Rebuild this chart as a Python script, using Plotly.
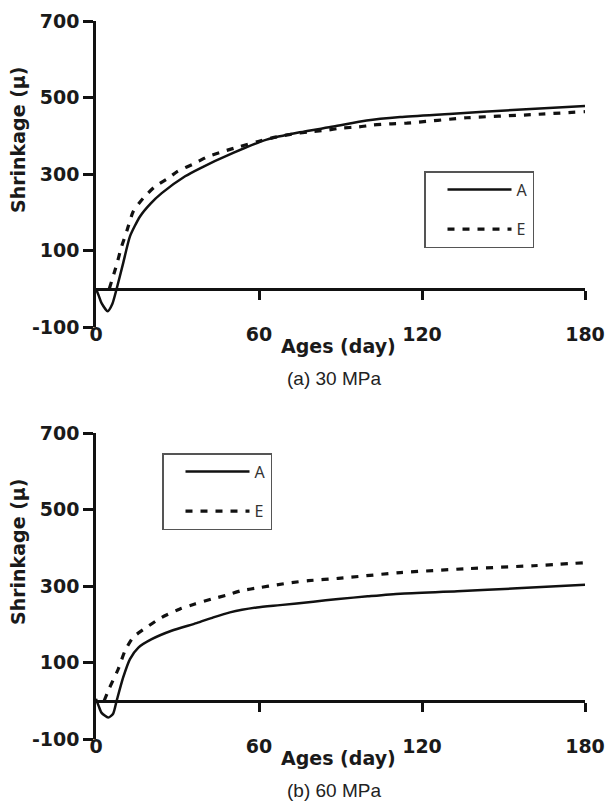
import plotly.graph_objects as go

# ---------------- data ----------------
days_a30 = [0, 1, 2, 4.3, 6, 7.6, 10, 12.5, 16.2, 20, 24.2, 32.8, 38.3, 50.5, 62.8, 75, 87.4, 99.6, 112, 130, 155, 180]
shr_a30 = [0, -18, -37, -59, -40, 0, 67, 137, 189, 222, 250, 294, 315, 355, 390, 409, 424, 440, 449, 457, 468, 478]

days_e30 = [4.9, 7.6, 9.4, 11.3, 13.7, 17.4, 21.7, 26.6, 30, 36.4, 41.3, 46.9, 53, 59.7, 66.5, 72, 78.2, 84.3,
            90.4, 96.6, 102, 108, 114.4, 136.5, 160, 180]
shr_e30 = [0, 63, 110, 150, 202, 237, 267, 289, 307, 328, 346, 359, 372, 385, 397, 404, 410, 414,
           420, 423, 428, 431, 433, 447, 455, 463]

days_a60 = [0, 1, 2, 4.5, 6.3, 7.6, 10, 12.5, 15.6, 20.5, 27.8, 37, 43.2, 49.3, 59.2, 67.7, 80, 89.2, 100, 112, 133, 155, 180]
shr_a60 = [5, -14, -31, -44, -34, 0, 61, 109, 139, 161, 183, 203, 218, 231, 244, 250, 259, 266, 273, 280, 286, 294, 303]

days_e60 = [3, 4.8, 8.2, 10.7, 13.7, 18.6, 24.2, 30.9, 36.4, 42.6, 48.1, 53.6, 60.4, 66.5, 72, 78.2, 89.2,
            112, 136, 161, 180]
shr_e60 = [0, 31, 83, 131, 166, 192, 218, 240, 253, 266, 276, 288, 296, 303, 309, 314, 320,
           335, 345, 353, 361]

x_ticks = [0, 60, 120, 180]
x_minor_ticks = [60, 120, 180]
y_ticks = [-100, 100, 300, 500, 700]
y_tick_labels = [str(v) for v in y_ticks]
x_range = [0, 180]
y_range = [-100, 700]
series_names = ["A", "E"]
captions = ["(a) 30 MPa", "(b) 60 MPa"]
x_title = "Ages (day)"
y_title = "Shrinkage (μ)"

# ---------------- layout helpers ----------------
W, H = 607, 801

def px_x(p):
    return p / W

def px_y(p):
    return 1 - p / H

xdom = [px_x(96), px_x(585)]
ydom_top = [px_y(327), px_y(21)]
ydom_bot = [px_y(739), px_y(433)]

def zero_pos(dom):
    return dom[0] + (0 - y_range[0]) / (y_range[1] - y_range[0]) * (dom[1] - dom[0])

BOLD = dict(family="DejaVu Sans", size=19, color="#1a1a1a", weight="bold")
INK = "#111111"

fig = go.Figure()

def add_pair(xa, ya, xz, leg, da, sa, de, se):
    fig.add_trace(go.Scatter(x=da, y=sa, mode="lines", name=series_names[0],
                             line=dict(color=INK, width=2.5, shape="spline", smoothing=0.6),
                             xaxis=xa, yaxis=ya, legend=leg, legendgroup=leg + "A"))
    fig.add_trace(go.Scatter(x=de, y=se, mode="lines", name=series_names[1],
                             line=dict(color=INK, width=3.2, dash="7px,8px", shape="spline", smoothing=0.6),
                             xaxis=xa, yaxis=ya, legend=leg, legendgroup=leg + "E"))
    # empty trace so the axis drawn through y = 0 gets its own subplot
    fig.add_trace(go.Scatter(x=[], y=[], mode="lines", xaxis=xz, yaxis=ya, showlegend=False,
                             hoverinfo="skip"))

add_pair("x", "y", "x3", "legend", days_a30, shr_a30, days_e30, shr_e30)
add_pair("x2", "y2", "x4", "legend2", days_a60, shr_a60, days_e60, shr_e60)

def main_x(anchor):
    return dict(domain=xdom, anchor=anchor, range=x_range, tickvals=x_ticks, ticks="",
                showline=False, showgrid=False, zeroline=False, tickfont=BOLD,
                ticklabelstandoff=-6, automargin=False)

def zero_x(over, pos):
    return dict(domain=xdom, overlaying=over, anchor="free", position=pos, range=x_range,
                tickvals=x_minor_ticks, ticks="outside", ticklen=9, tickwidth=2.5, tickcolor=INK,
                showline=True, linewidth=2.5, linecolor=INK, showticklabels=False,
                showgrid=False, zeroline=False, automargin=False)

def main_y(anchor, dom):
    return dict(domain=dom, anchor=anchor, range=y_range, tickvals=y_ticks, ticktext=y_tick_labels,
                ticks="outside", ticklen=10, tickwidth=2.5, tickcolor=INK, showline=True,
                linewidth=2.5, linecolor=INK, showgrid=False, zeroline=False, tickfont=BOLD,
                automargin=False)

def legend_box(x, y):
    return dict(x=x, y=y, xanchor="left", yanchor="top", bordercolor="#555555", borderwidth=1.5,
                bgcolor="white", font=dict(family="Noto Sans", size=16, color="#333333"),
                traceorder="grouped", tracegroupgap=16, itemwidth=64, indentation=17)

fig.update_layout(
    width=W, height=H, margin=dict(l=0, r=0, t=0, b=0),
    paper_bgcolor="white", plot_bgcolor="white",
    xaxis=main_x("y"), yaxis=main_y("x", ydom_top),
    xaxis2=main_x("y2"), yaxis2=main_y("x2", ydom_bot),
    xaxis3=zero_x("x", zero_pos(ydom_top)),
    xaxis4=zero_x("x2", zero_pos(ydom_bot)),
    legend=legend_box(px_x(424), px_y(171)),
    legend2=legend_box(px_x(162), px_y(453)),
    showlegend=True,
)

ann = []
for off, cap in zip([0, 412], captions):
    ann.append(dict(text=y_title, x=px_x(18), y=px_y(140 + off), xref="paper", yref="paper",
                    textangle=-90, showarrow=False, font=BOLD, xanchor="center", yanchor="middle"))
    ann.append(dict(text=x_title, x=px_x(338), y=px_y(346 + off), xref="paper", yref="paper",
                    showarrow=False, font=BOLD, xanchor="center", yanchor="middle"))
    ann.append(dict(text=cap, x=px_x(334), y=px_y(378 + off), xref="paper", yref="paper",
                    showarrow=False, font=dict(family="Liberation Sans", size=19, color="#222222"),
                    xanchor="center", yanchor="middle"))
fig.update_layout(annotations=ann)

fig.write_html(
    "out.html",
    config={"displayModeBar": False},
    post_script="document.body.style.margin='0';document.body.style.overflow='hidden';",
)
